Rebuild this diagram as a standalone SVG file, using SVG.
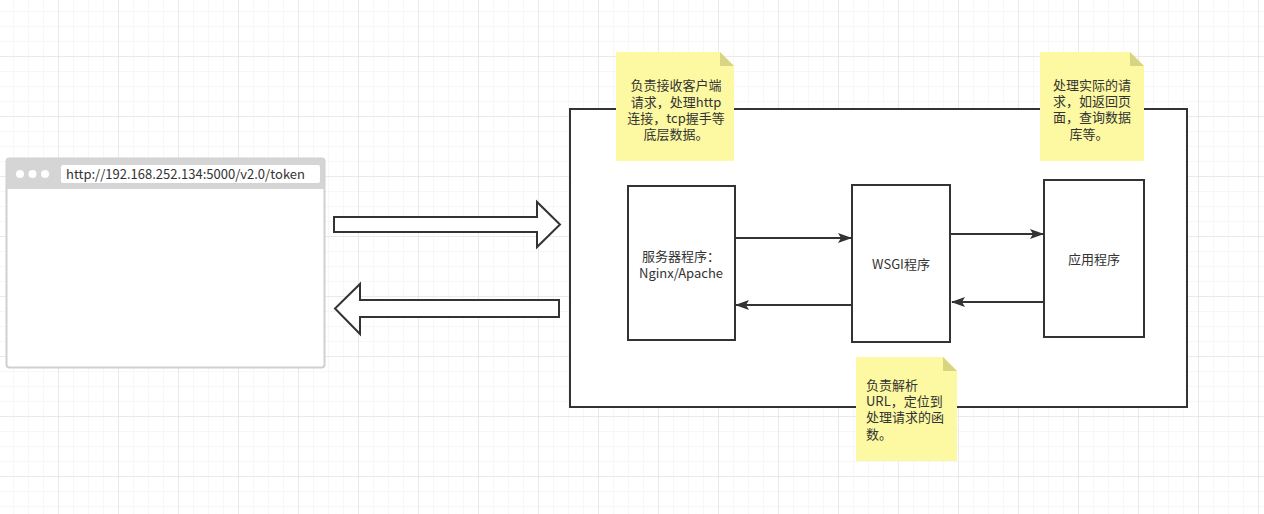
<svg xmlns="http://www.w3.org/2000/svg" width="1264" height="514" viewBox="0 0 1264 514">
<defs>
<pattern id="minor" width="15" height="15" patternUnits="userSpaceOnUse" x="-2" y="-4">
<path d="M0 0H15M0 0V15" fill="none" stroke="#f0f0f0" stroke-width="1"/>
</pattern>
<pattern id="major" width="60" height="60" patternUnits="userSpaceOnUse" x="-2" y="-4">
<path d="M0 0H60M0 0V60" fill="none" stroke="#dedede" stroke-width="1"/>
</pattern>
<marker id="ah" viewBox="0 0 14 10" refX="13" refY="5" markerWidth="14" markerHeight="10" markerUnits="userSpaceOnUse" orient="auto">
<path d="M0 0L14 5L0 10L3 5Z" fill="#333"/>
</marker>
<style>
.t{font-family:"Noto Sans CJK SC","Liberation Sans",sans-serif;font-size:13px;fill:#333}
.box{fill:#fff;stroke:#333;stroke-width:2}
.note{fill:#fcf9a2}
.fold{fill:#d7d482}
.conn{fill:none;stroke:#333;stroke-width:2;marker-end:url(#ah)}
.big{fill:#fff;stroke:#333;stroke-width:2}
</style>
</defs>
<rect width="1264" height="514" fill="#fff"/>
<rect width="1264" height="514" fill="url(#minor)"/>
<rect width="1264" height="514" fill="url(#major)"/>

<g id="browser">
<rect x="6.5" y="158.5" width="318" height="209" rx="3" fill="#fff" stroke="#d0d0d0" stroke-width="2"/>
<path d="M6.5 189V161.5a3 3 0 0 1 3-3H321.5a3 3 0 0 1 3 3V189Z" fill="#d5d5d5"/>
<circle cx="20" cy="174" r="4" fill="#fff"/>
<circle cx="32.5" cy="174" r="4" fill="#fff"/>
<circle cx="45" cy="174" r="4" fill="#fff"/>
<rect x="61" y="165" width="259" height="18" rx="2" fill="#fff"/>
<text class="t" x="66" y="179" style="font-size:13px">http://192.168.252.134:5000/v2.0/token</text>
</g>

<g id="arrow-request">
<path d="M334 217H537V202L560 224.5L537 247V232H334Z" fill="#fff" stroke="#333" stroke-width="2" stroke-linejoin="miter"/>
</g>
<g id="arrow-response">
<path d="M559 300H360V284L335 308.5L360 334V317H559Z" fill="#fff" stroke="#333" stroke-width="2" stroke-linejoin="miter"/>
</g>

<g id="container">
<rect class="big" x="570" y="109" width="617" height="298"/>
</g>

<g id="server">
<rect class="box" x="628" y="186" width="107" height="154"/>
<text class="t" x="681" y="261" text-anchor="middle">服务器程序：</text>
<text class="t" x="681" y="278" text-anchor="middle">Nginx/Apache</text>
</g>

<g id="wsgi">
<rect class="box" x="852" y="185" width="98" height="157"/>
<text class="t" x="901" y="269" text-anchor="middle">WSGI程序</text>
</g>

<g id="app">
<rect class="box" x="1044" y="180" width="100" height="157"/>
<text class="t" x="1094" y="264" text-anchor="middle">应用程序</text>
</g>

<g id="connectors">
<path class="conn" d="M735 238H851"/>
<path class="conn" d="M851 305H736"/>
<path class="conn" d="M950 234H1043"/>
<path class="conn" d="M1043 302H952"/>
</g>

<g id="note-server">
<path class="note" d="M616 52H720L734 66V161H616Z"/>
<path class="fold" d="M720 52L734 66H720Z"/>
<text class="t" x="676" y="90" text-anchor="middle">负责接收客户端</text>
<text class="t" x="676" y="107" text-anchor="middle">请求，处理http</text>
<text class="t" x="676" y="123" text-anchor="middle">连接，tcp握手等</text>
<text class="t" x="676" y="139" text-anchor="middle">底层数据。</text>
</g>

<g id="note-app">
<path class="note" d="M1040 52H1130L1144 66V161H1040Z"/>
<path class="fold" d="M1130 52L1144 66H1130Z"/>
<text class="t" x="1092" y="90" text-anchor="middle">处理实际的请</text>
<text class="t" x="1092" y="106" text-anchor="middle">求，如返回页</text>
<text class="t" x="1092" y="122" text-anchor="middle">面，查询数据</text>
<text class="t" x="1089" y="139" text-anchor="middle">库等。</text>
</g>

<g id="note-wsgi">
<path class="note" d="M856 357H943L957 371V461H856Z"/>
<path class="fold" d="M943 357L957 371H943Z"/>
<text class="t" x="866" y="390">负责解析</text>
<text class="t" x="866" y="406">URL，定位到</text>
<text class="t" x="866" y="422">处理请求的函</text>
<text class="t" x="866" y="439">数。</text>
</g>
</svg>
